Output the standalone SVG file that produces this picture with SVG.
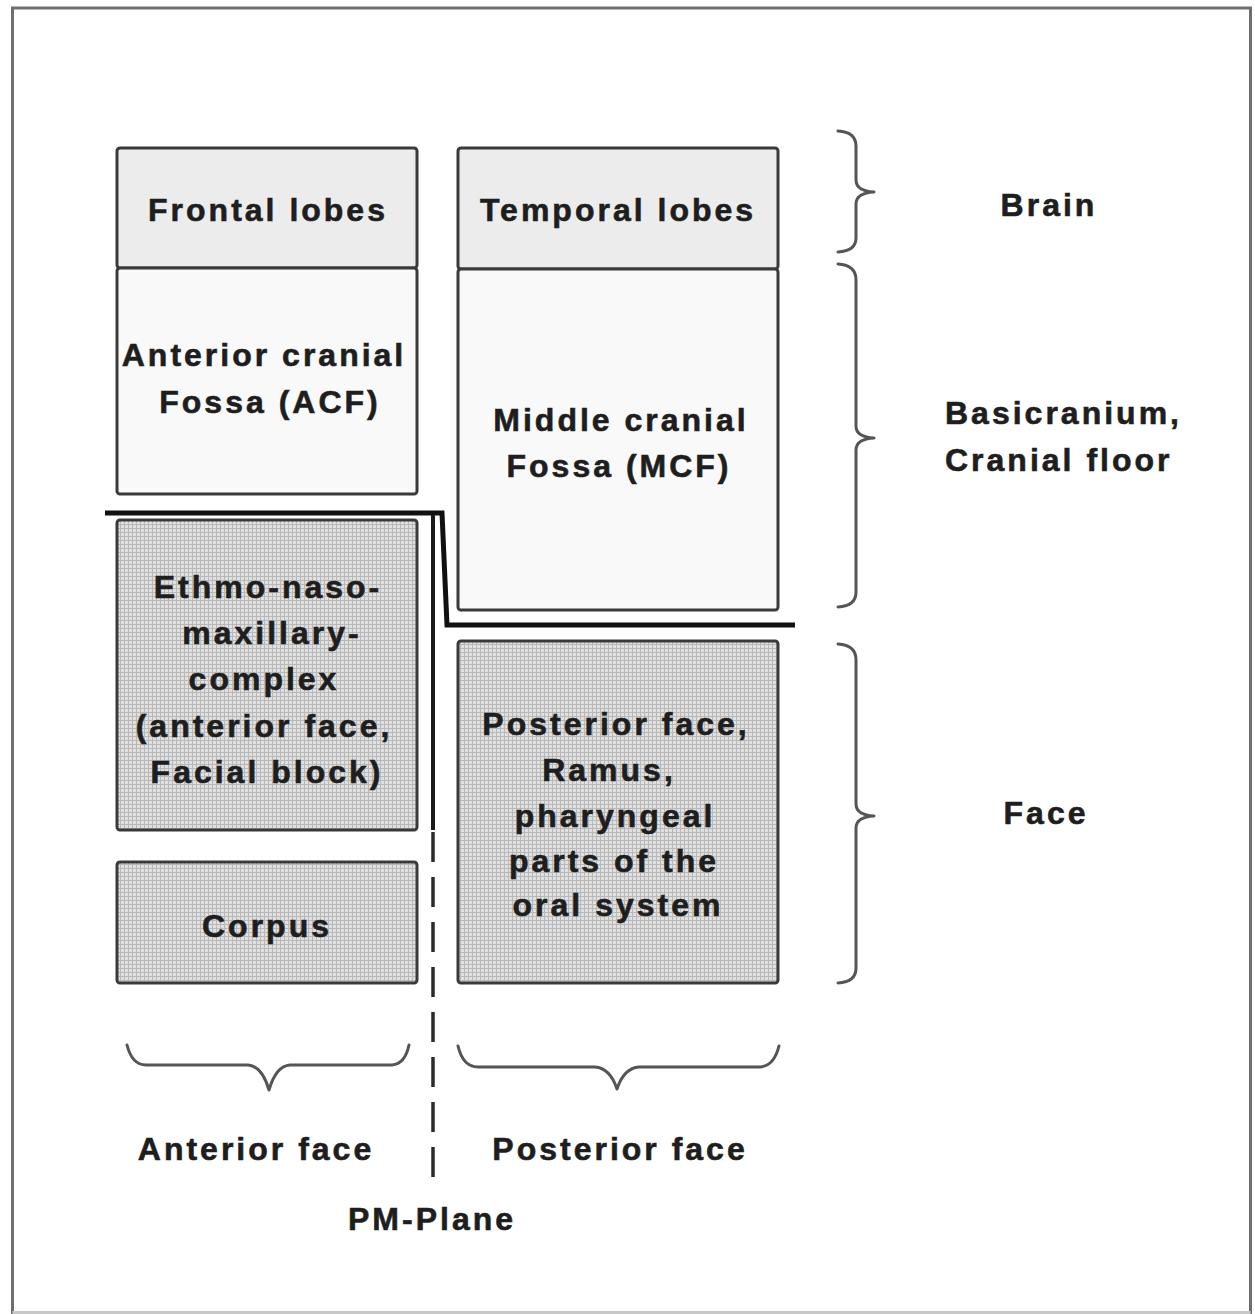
<svg xmlns="http://www.w3.org/2000/svg" width="1255" height="1314" viewBox="0 0 1255 1314">
  <style>
    .t { font-family: "Liberation Sans", Arial, sans-serif; font-weight: bold; font-size: 32px; fill: #1e1e1e; stroke: #1e1e1e; stroke-width: 0.6; letter-spacing: 3px; text-anchor: middle; }
    .tl { text-anchor: start; }
    .box { stroke: #3a3a3a; stroke-width: 3; }
    .brain { fill: #ececec; }
    .fossa { fill: #f9f9f9; }
    .face { fill: url(#grid); }
    .brace { fill: none; stroke: #555; stroke-width: 3; stroke-linecap: round; stroke-linejoin: round; }
  </style>
  <defs>
    <pattern id="grid" width="4" height="4" patternUnits="userSpaceOnUse">
      <rect width="4" height="4" fill="#e0e0e0"/>
      <path d="M0 0.5H4M0.5 0V4" stroke="#b8b8b8" stroke-width="1"/>
    </pattern>
  </defs>
  <rect width="1255" height="1314" fill="#ffffff"/>
  <g id="frame" fill="none" stroke-width="3">
    <path d="M12.5 1314 V8 H1250.5 V1314" stroke="#6e6e6e"/>
    <path d="M12.5 1312.5 H1250.5" stroke="#c8c8c8"/>
  </g>

  <g id="frontal-lobes">
    <rect class="box brain" x="117" y="148" width="300" height="120" rx="3"/>
    <text class="t" x="268" y="221">Frontal lobes</text>
  </g>
  <g id="acf">
    <rect class="box fossa" x="117" y="268" width="300" height="226" rx="3"/>
    <text class="t" x="264" y="366">Anterior cranial</text>
    <text class="t" x="270" y="413">Fossa (ACF)</text>
  </g>
  <g id="temporal-lobes">
    <rect class="box brain" x="458" y="148" width="320" height="121" rx="3"/>
    <text class="t" x="618" y="221">Temporal lobes</text>
  </g>
  <g id="mcf">
    <rect class="box fossa" x="458" y="269" width="320" height="341" rx="3"/>
    <text class="t" x="621" y="431">Middle cranial</text>
    <text class="t" x="619" y="477">Fossa (MCF)</text>
  </g>
  <g id="ethmo">
    <rect class="box face" x="117" y="520" width="300" height="310" rx="3"/>
    <text class="t" x="268" y="598">Ethmo-naso-</text>
    <text class="t" x="272" y="644">maxillary-</text>
    <text class="t" x="264" y="690">complex</text>
    <text class="t" x="264" y="737">(anterior face,</text>
    <text class="t" x="267" y="783">Facial block)</text>
  </g>
  <g id="corpus">
    <rect class="box face" x="117" y="862" width="300" height="121" rx="3"/>
    <text class="t" x="267" y="937">Corpus</text>
  </g>
  <g id="posterior-face">
    <rect class="box face" x="458" y="641" width="320" height="342" rx="3"/>
    <text class="t" x="616" y="735">Posterior face,</text>
    <text class="t" x="609" y="781">Ramus,</text>
    <text class="t" x="615" y="827">pharyngeal</text>
    <text class="t" x="614" y="872">parts of the</text>
    <text class="t" x="618" y="916">oral system</text>
  </g>

  <g id="connectors">
    <path d="M105 513 H442 L447 625 H795" fill="none" stroke="#111" stroke-width="5" stroke-linejoin="miter"/>
    <path d="M433 515 V830" fill="none" stroke="#1a1a1a" stroke-width="4"/>
    <path d="M433 832 V1180" fill="none" stroke="#2a2a2a" stroke-width="3.5" stroke-dasharray="30 15"/>
  </g>

  <g id="braces">
    <path class="brace" d="M838 131 Q856 132 856 146 L856 180 Q856 191 874 192 Q856 193 856 204 L856 238 Q856 251 838 252"/>
    <path class="brace" d="M838 264 Q856 265 856 280 L856 426 Q856 437 874 438 Q856 439 856 450 L856 592 Q856 606 838 607"/>
    <path class="brace" d="M838 644 Q856 645 856 660 L856 804 Q856 815 874 816 Q856 817 856 828 L856 968 Q856 982 838 983"/>
    <path class="brace" d="M127 1045 Q132 1065 146 1065 L248 1065 Q262 1066 269 1090 Q276 1066 290 1065 L392 1065 Q405 1064 409 1045"/>
    <path class="brace" d="M458 1046 Q463 1067 478 1067 L595 1067 Q610 1068 617 1089 Q624 1068 639 1067 L760 1067 Q774 1066 779 1046"/>
  </g>

  <g id="labels">
    <text class="t" x="1049" y="216">Brain</text>
    <text class="t tl" x="945" y="424">Basicranium,</text>
    <text class="t tl" x="945" y="471">Cranial floor</text>
    <text class="t" x="1046" y="824">Face</text>
    <text class="t" x="256" y="1160">Anterior face</text>
    <text class="t" x="620" y="1160">Posterior face</text>
    <text class="t" x="432" y="1230">PM-Plane</text>
  </g>
</svg>
